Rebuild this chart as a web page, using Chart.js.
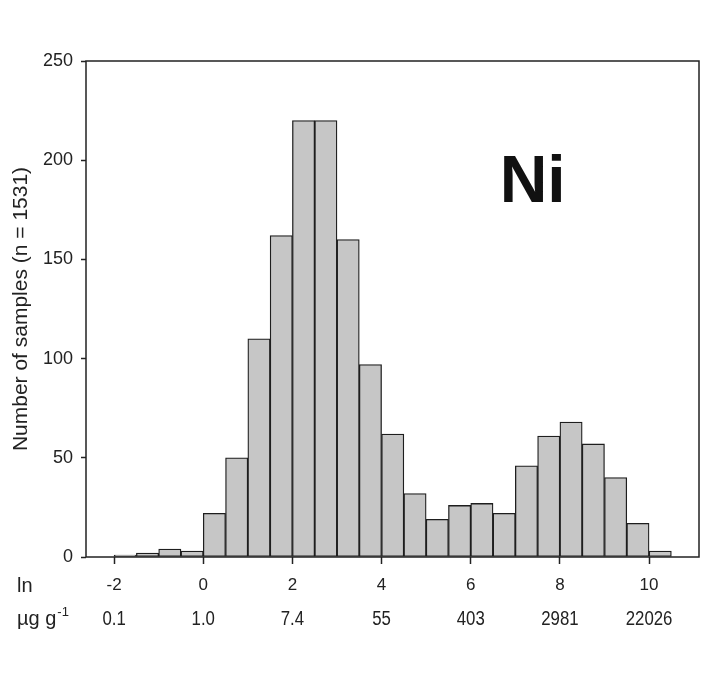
<!DOCTYPE html>
<html>
<head>
<meta charset="utf-8">
<script src="https://cdn.jsdelivr.net/npm/chart.js@4.4.1/dist/chart.umd.min.js"></script>
<style>
  body { margin: 0; background: #fff; }
  #wrap { width: 713px; height: 680px; }
</style>
</head>
<body>
<div id="wrap"><canvas id="hist" width="713" height="680"></canvas></div>
<script>
// histogram of ln(Ni) - bins are 0.5 wide, listed by their centres
const binCenters = [-1.75, -1.25, -0.75, -0.25, 0.25, 0.75, 1.25, 1.75, 2.25, 2.75,
                    3.25, 3.75, 4.25, 4.75, 5.25, 5.75, 6.25, 6.75, 7.25, 7.75,
                    8.25, 8.75, 9.25, 9.75, 10.25];
const counts = [1, 2, 4, 3, 22, 50, 110, 162, 220, 220,
                160, 97, 62, 32, 19, 26, 27, 22, 46, 61,
                68, 57, 40, 17, 3];

const lnTicks = [-2, 0, 2, 4, 6, 8, 10];
const concLabels = ['0.1', '1.0', '7.4', '55', '403', '2981', '22026'];
const yTicks = [0, 50, 100, 150, 200, 250];

const xMin = -2.63, xMax = 11.12;
const elementLabel = 'Ni';
const TEXT = '#222';

// frame, row captions, second (µg/g) tick row and element name
const extrasPlugin = {
    id: 'extras',
    afterDraw(chart) {
        const ctx = chart.ctx;
        const a = chart.chartArea;
        const xs = chart.scales.x;
        const ys = chart.scales.y;
        ctx.save();
        ctx.strokeStyle = '#222';
        ctx.lineWidth = 1.5;
        ctx.strokeRect(a.left, a.top, a.right - a.left, a.bottom - a.top);

        ctx.fillStyle = TEXT;
        ctx.textAlign = 'left';
        ctx.textBaseline = 'middle';
        ctx.font = '20px "Liberation Sans", Arial, sans-serif';
        ctx.fillText('ln', 17, a.bottom + 29);

        // µg g-1 with superscript
        const rowY = a.bottom + 62;
        ctx.textBaseline = 'alphabetic';
        ctx.fillText('\u00b5g g', 17, rowY + 6);
        const w = ctx.measureText('\u00b5g g').width;
        ctx.font = '13px "Liberation Sans", Arial, sans-serif';
        ctx.fillText('-1', 17 + w + 1, rowY - 3);

        // concentration row, condensed like the original
        ctx.font = '20px "Liberation Sans", Arial, sans-serif';
        ctx.textAlign = 'center';
        ctx.textBaseline = 'middle';
        lnTicks.forEach((v, i) => {
            ctx.save();
            ctx.translate(xs.getPixelForValue(v), rowY);
            ctx.scale(0.84, 1);
            ctx.fillText(concLabels[i], 0, 0);
            ctx.restore();
        });

        // big element label inside plot
        ctx.font = 'bold 66px "Liberation Sans", Arial, sans-serif';
        ctx.fillStyle = '#111';
        ctx.textBaseline = 'alphabetic';
        ctx.fillText(elementLabel, xs.getPixelForValue(7.39), ys.getPixelForValue(179));
        ctx.restore();
    }
};

const ctx = document.getElementById('hist').getContext('2d');
new Chart(ctx, {
    type: 'bar',
    data: {
        datasets: [{
            data: binCenters.map((c, i) => ({ x: c, y: counts[i] })),
            backgroundColor: '#c6c6c6',
            borderColor: '#1e1e1e',
            borderWidth: 1.3,
            borderSkipped: false,
            barPercentage: 1.0,
            categoryPercentage: 1.0
        }]
    },
    options: {
        responsive: false,
        animation: false,
        devicePixelRatio: 1,
        layout: { padding: { top: 61, right: 14, left: 0, bottom: 0 } },
        plugins: {
            legend: { display: false },
            tooltip: { enabled: false }
        },
        scales: {
            x: {
                type: 'linear',
                position: 'bottom',
                min: xMin,
                max: xMax,
                offset: false,
                afterBuildTicks: s => { s.ticks = lnTicks.map(v => ({ value: v })); },
                afterFit: s => { s.height = 123; },
                ticks: {
                    autoSkip: false,
                    maxRotation: 0,
                    padding: 11,
                    color: TEXT,
                    font: { family: '"Liberation Sans", Arial, sans-serif', size: 17 },
                    callback: v => String(v)
                },
                grid: {
                    drawOnChartArea: false,
                    drawTicks: true,
                    tickLength: 7,
                    tickColor: '#222',
                    tickWidth: 1.5,
                    offset: false
                },
                border: { display: false }
            },
            y: {
                min: 0,
                max: 250,
                afterBuildTicks: s => { s.ticks = yTicks.map(v => ({ value: v })); },
                afterFit: s => { s.width = 86; },
                ticks: {
                    padding: 8,
                    color: TEXT,
                    font: { family: '"Liberation Sans", Arial, sans-serif', size: 18 }
                },
                grid: {
                    drawOnChartArea: false,
                    drawTicks: true,
                    tickLength: 5,
                    tickColor: '#222',
                    tickWidth: 1.5
                },
                border: { display: false },
                title: {
                    display: true,
                    text: 'Number of samples (n = 1531)',
                    color: TEXT,
                    font: { family: '"Liberation Sans", Arial, sans-serif', size: 21 },
                    padding: { top: 9, bottom: 0 }
                }
            }
        }
    },
    plugins: [extrasPlugin]
});
</script>
</body>
</html>
